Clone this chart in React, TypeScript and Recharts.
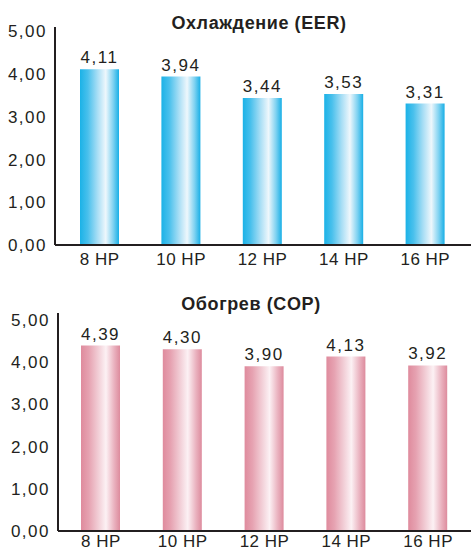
import { BarChart, Bar, XAxis, YAxis, LabelList } from 'recharts';

const models = ['8 HP', '10 HP', '12 HP', '14 HP', '16 HP'];
const eer = [4.11, 3.94, 3.44, 3.53, 3.31];
const cop = [4.39, 4.3, 3.9, 4.13, 3.92];
const yTicks = [0, 1, 2, 3, 4, 5];

const FONT = '"Liberation Sans", Arial, Helvetica, sans-serif';
const INK = '#231f20';

const fmt = (v: number) => Number(v).toFixed(2).replace('.', ',');

const coolingData = models.map((m, i) => ({ model: m, value: eer[i] }));
const heatingData = models.map((m, i) => ({ model: m, value: cop[i] }));

interface PanelProps {
  data: { model: string; value: number }[];
  height: number;
  top: number;
  axisWidth: number;
  xAxisHeight: number;
  xTickMargin: number;
  yMax: number;
  padding: { left: number; right: number };
  barSize: number;
  gradId: string;
}

function Panel({ data, height, top, axisWidth, xAxisHeight, xTickMargin, yMax, padding, barSize, gradId }: PanelProps) {
  return (
    <BarChart
      width={471}
      height={height}
      data={data}
      margin={{ top, right: 0, left: 0, bottom: 0 }}
      style={{ fontFamily: FONT }}
    >
      <defs>
        <linearGradient id="grad-blue" x1="0" y1="0" x2="1" y2="0">
          <stop offset="0%" stopColor="#1bb2e7" />
          <stop offset="20%" stopColor="#49c0ec" />
          <stop offset="45%" stopColor="#a8def5" />
          <stop offset="66%" stopColor="#eef7fc" />
          <stop offset="85%" stopColor="#7fd2f1" />
          <stop offset="100%" stopColor="#18afe6" />
        </linearGradient>
        <linearGradient id="grad-pink" x1="0" y1="0" x2="1" y2="0">
          <stop offset="0%" stopColor="#df8b9d" />
          <stop offset="20%" stopColor="#e6a2b1" />
          <stop offset="45%" stopColor="#f2cfd7" />
          <stop offset="64%" stopColor="#fcf1f4" />
          <stop offset="85%" stopColor="#eab2bf" />
          <stop offset="100%" stopColor="#dd8b9d" />
        </linearGradient>
      </defs>
      <XAxis
        dataKey="model"
        height={xAxisHeight}
        tickLine={false}
        tickMargin={xTickMargin}
        axisLine={{ stroke: INK, strokeWidth: 2 }}
        tick={{ fill: INK, fontSize: 17, letterSpacing: 0.5 }}
        padding={padding}
        interval={0}
      />
      <YAxis
        width={axisWidth}
        domain={[0, yMax]}
        ticks={yTicks}
        tickFormatter={fmt}
        tickLine={false}
        axisLine={{ stroke: INK, strokeWidth: 2 }}
        tick={{ fill: INK, fontSize: 17, letterSpacing: 1.5 }}
        allowDataOverflow
      />
      <Bar dataKey="value" fill={`url(#${gradId})`} barSize={barSize} isAnimationActive={false}>
        <LabelList
          dataKey="value"
          position="top"
          offset={6}
          formatter={(v: any) => fmt(v)}
          style={{ fill: INK, fontSize: 17, letterSpacing: 1.5, fontFamily: FONT }}
        />
      </Bar>
    </BarChart>
  );
}

export default function App() {
  return (
    <div style={{ position: 'absolute', left: 0, top: 0, width: 471, height: 552, background: '#fff', fontFamily: FONT }}>
      <div style={{ position: 'absolute', left: 0, top: 0 }}>
        <Panel
          data={coolingData}
          height={276}
          top={27}
          axisWidth={55}
          xAxisHeight={31}
          xTickMargin={2}
          yMax={5.1}
          padding={{ left: 4, right: 5 }}
          barSize={39}
          gradId="grad-blue"
        />
      </div>
      <div style={{ position: 'absolute', left: 0, top: 280 }}>
        <Panel
          data={heatingData}
          height={272}
          top={33}
          axisWidth={58}
          xAxisHeight={21}
          xTickMargin={-2}
          yMax={5.16}
          padding={{ left: 2, right: 2 }}
          barSize={39}
          gradId="grad-pink"
        />
      </div>
      <svg width={471} height={552} style={{ position: 'absolute', left: 0, top: 0, pointerEvents: 'none' }}>
        <text x={259} y={29} textAnchor="middle" fontFamily={FONT} fontWeight="bold" fontSize={18} letterSpacing={0.6} fill={INK}>
          Охлаждение (EER)
        </text>
        <text x={251} y={310} textAnchor="middle" fontFamily={FONT} fontWeight="bold" fontSize={18} letterSpacing={0.6} fill={INK}>
          Обогрев (COP)
        </text>
      </svg>
    </div>
  );
}
